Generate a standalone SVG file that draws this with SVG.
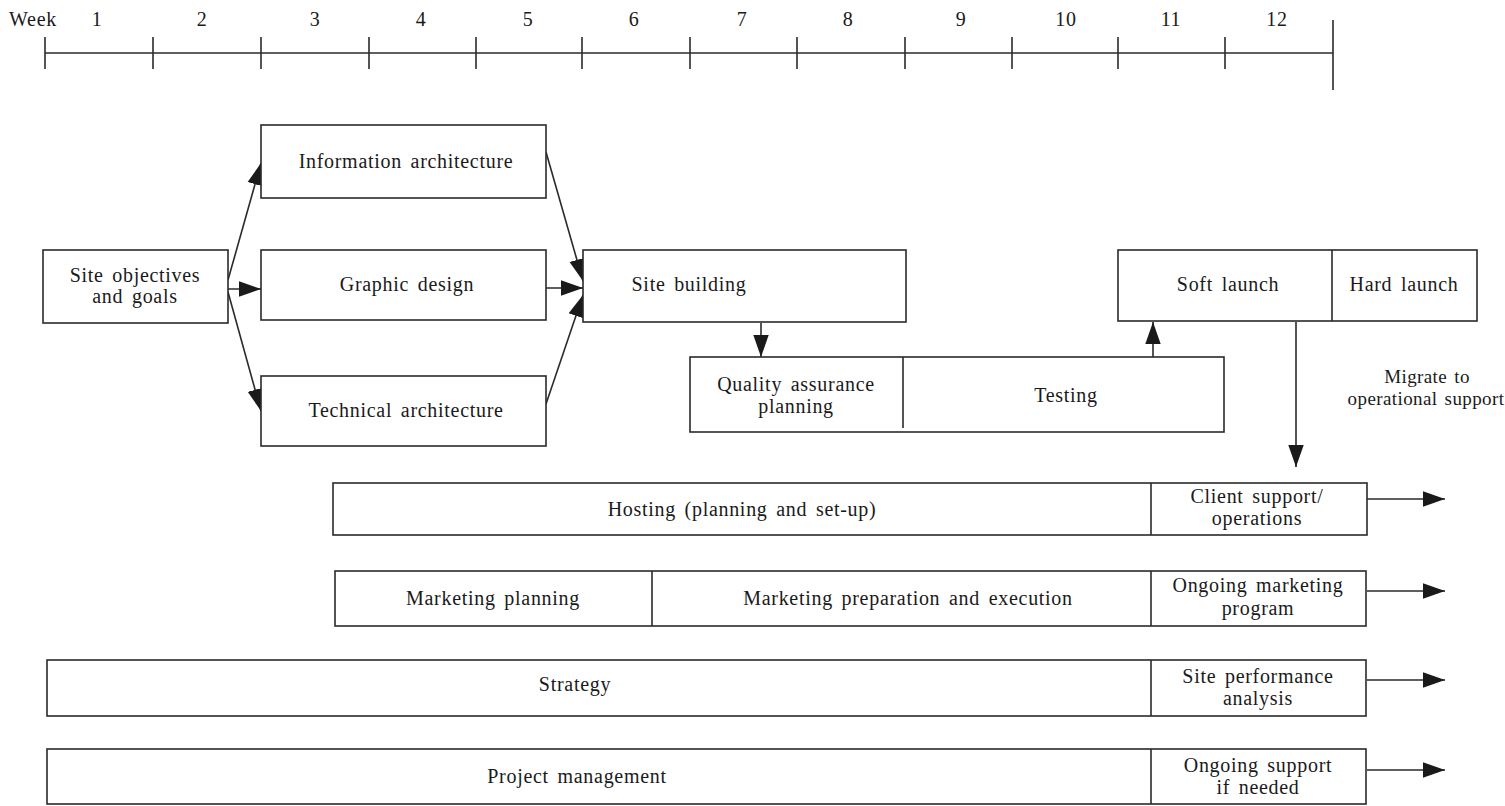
<svg xmlns="http://www.w3.org/2000/svg" width="1505" height="806" viewBox="0 0 1505 806">
<style>
text{font-family:"Liberation Serif","Times New Roman",serif;font-size:20px;fill:#1a1a1a;text-anchor:middle;letter-spacing:0.7px;word-spacing:3px}
text.sm{font-size:19px;letter-spacing:0.4px;word-spacing:2px}
.box{fill:#fff;stroke:#2a2a2a;stroke-width:1.6}
.ln{stroke:#2a2a2a;stroke-width:1.6;fill:none}
.ar{stroke:#2a2a2a;stroke-width:1.6;fill:none;marker-end:url(#ah)}
</style>
<defs>
<marker id="ah" viewBox="0 0 10 10" refX="10" refY="5" markerWidth="22" markerHeight="22" markerUnits="userSpaceOnUse" orient="auto">
<path d="M0,1.5 L10,5 L0,8.5 z" fill="#1a1a1a"/>
</marker>
</defs>
<g id="timeline">
<line class="ln" x1="45" y1="53" x2="1333" y2="53"/>
<g class="ln">
<line x1="45" y1="37" x2="45" y2="69"/>
<line x1="153" y1="37" x2="153" y2="69"/>
<line x1="261" y1="37" x2="261" y2="69"/>
<line x1="369" y1="37" x2="369" y2="69"/>
<line x1="476" y1="37" x2="476" y2="69"/>
<line x1="582" y1="37" x2="582" y2="69"/>
<line x1="690" y1="37" x2="690" y2="69"/>
<line x1="797" y1="37" x2="797" y2="69"/>
<line x1="905" y1="37" x2="905" y2="69"/>
<line x1="1012" y1="37" x2="1012" y2="69"/>
<line x1="1118" y1="37" x2="1118" y2="69"/>
<line x1="1225" y1="37" x2="1225" y2="69"/>
<line x1="1333" y1="20" x2="1333" y2="90"/>
</g>
<text x="33" y="26">Week</text>
<text x="97" y="26">1</text>
<text x="202" y="26">2</text>
<text x="315" y="26">3</text>
<text x="421" y="26">4</text>
<text x="528" y="26">5</text>
<text x="634" y="26">6</text>
<text x="742" y="26">7</text>
<text x="848" y="26">8</text>
<text x="961" y="26">9</text>
<text x="1066" y="26">10</text>
<text x="1171" y="26">11</text>
<text x="1277" y="26">12</text>
</g>
<g id="connectors">
<line class="ar" x1="228" y1="280" x2="261" y2="163"/>
<line class="ar" x1="228" y1="289" x2="261" y2="289"/>
<line class="ar" x1="228" y1="292" x2="261" y2="411"/>
<line class="ar" x1="546" y1="152" x2="583" y2="281"/>
<line class="ar" x1="546" y1="288" x2="583" y2="288"/>
<line class="ar" x1="546" y1="404" x2="583" y2="295"/>
<line class="ar" x1="761" y1="323" x2="761" y2="357"/>
<line class="ar" x1="1153" y1="357" x2="1153" y2="322"/>
<line class="ar" x1="1296" y1="322" x2="1296" y2="467"/>
<line class="ar" x1="1367" y1="499" x2="1445" y2="499"/>
<line class="ar" x1="1367" y1="591" x2="1445" y2="591"/>
<line class="ar" x1="1367" y1="680" x2="1445" y2="680"/>
<line class="ar" x1="1367" y1="770" x2="1445" y2="770"/>
<text class="sm" x="1427" y="383">Migrate to</text>
<text class="sm" x="1426" y="405">operational support</text>
</g>
<g id="site-objectives">
<rect class="box" x="43" y="250" width="185" height="73"/>
<text x="135" y="282">Site objectives</text>
<text x="135" y="303">and goals</text>
</g>
<g id="information-architecture">
<rect class="box" x="261" y="125" width="285" height="73"/>
<text x="406" y="168">Information architecture</text>
</g>
<g id="graphic-design">
<rect class="box" x="261" y="250" width="285" height="70"/>
<text x="407" y="291">Graphic design</text>
</g>
<g id="technical-architecture">
<rect class="box" x="261" y="376" width="285" height="70"/>
<text x="406" y="417">Technical architecture</text>
</g>
<g id="site-building">
<rect class="box" x="583" y="250" width="323" height="72"/>
<text x="689" y="291">Site building</text>
</g>
<g id="qa-testing">
<rect class="box" x="690" y="357" width="534" height="75"/>
<line class="ln" x1="903" y1="357" x2="903" y2="428"/>
<text x="796" y="391">Quality assurance</text>
<text x="796" y="413">planning</text>
<text x="1066" y="402">Testing</text>
</g>
<g id="launch">
<rect class="box" x="1118" y="250" width="359" height="71"/>
<line class="ln" x1="1332" y1="250" x2="1332" y2="321"/>
<text x="1228" y="291">Soft launch</text>
<text x="1404" y="291">Hard launch</text>
</g>
<g id="hosting">
<rect class="box" x="333" y="483" width="1034" height="52"/>
<line class="ln" x1="1151" y1="483" x2="1151" y2="535"/>
<text x="742" y="516">Hosting (planning and set-up)</text>
<text x="1257" y="503">Client support/</text>
<text x="1257" y="525">operations</text>
</g>
<g id="marketing">
<rect class="box" x="335" y="571" width="1031" height="55"/>
<line class="ln" x1="652" y1="571" x2="652" y2="626"/>
<line class="ln" x1="1151" y1="571" x2="1151" y2="626"/>
<text x="493" y="605">Marketing planning</text>
<text x="908" y="605">Marketing preparation and execution</text>
<text x="1258" y="592">Ongoing marketing</text>
<text x="1258" y="615">program</text>
</g>
<g id="strategy">
<rect class="box" x="47" y="660" width="1319" height="56"/>
<line class="ln" x1="1151" y1="660" x2="1151" y2="716"/>
<text x="575" y="691">Strategy</text>
<text x="1258" y="683">Site performance</text>
<text x="1258" y="705">analysis</text>
</g>
<g id="project-management">
<rect class="box" x="47" y="749" width="1319" height="55"/>
<line class="ln" x1="1151" y1="749" x2="1151" y2="804"/>
<text x="577" y="783">Project management</text>
<text x="1258" y="772">Ongoing support</text>
<text x="1258" y="794">if needed</text>
</g>
</svg>
